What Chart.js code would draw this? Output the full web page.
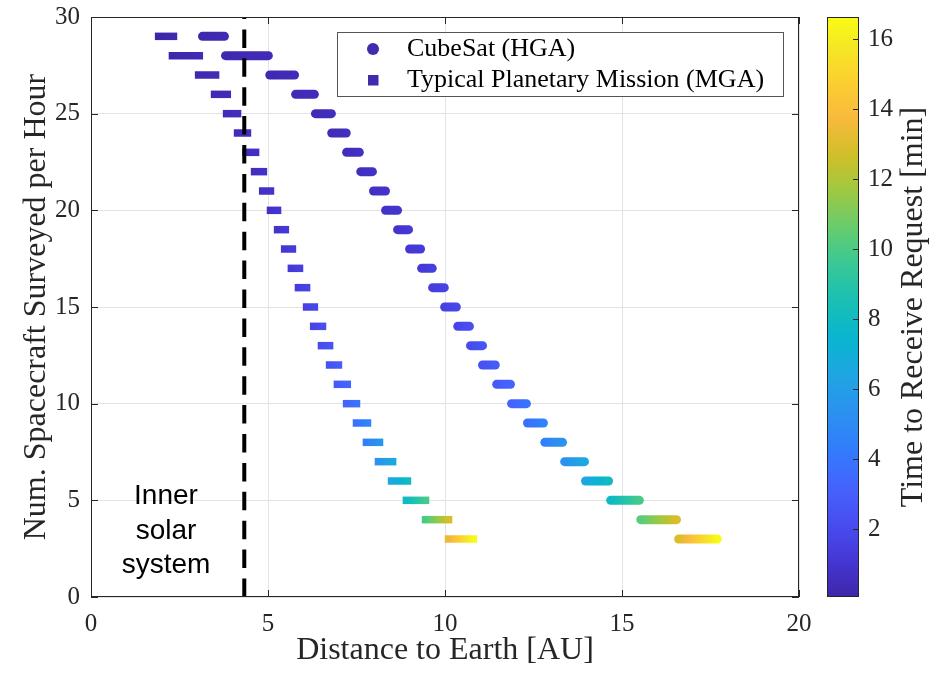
<!DOCTYPE html>
<html>
<head>
<meta charset="utf-8">
<script src="https://cdn.jsdelivr.net/npm/chart.js@4.4.1/dist/chart.umd.min.js"></script>
<style>
  body { margin: 0; background: #fff; }
</style>
</head>
<body>
<canvas id="grafico" width="942" height="674"></canvas>
<script>
// ==========================================
// 1. DATA
// ==========================================
// spacecraft surveyed per hour, one row per value
const mgaRows  = [29,28,27,26,25,24,23,22,21,20,19,18,17,16,15,14,13,12,11,10,9,8,7,6,5,4,3];
const mgaStart = [1.91,2.30,3.04,3.49,3.83,4.14,4.38,4.62,4.85,5.07,5.27,5.47,5.66,5.86,6.09,6.29,6.51,6.74,6.96,7.22,7.50,7.78,8.12,8.49,8.91,9.45,10.10];
const mgaEnd   = [2.33,3.06,3.52,3.85,4.14,4.42,4.65,4.87,5.07,5.27,5.49,5.69,5.89,6.09,6.31,6.54,6.74,6.99,7.24,7.50,7.81,8.15,8.52,8.94,9.45,10.10,10.80];
const mgaTimeStart = [0.06,0.15,0.25,0.3,0.4,0.45,0.5,0.6,0.7,0.8,0.9,1.1,1.2,1.4,1.6,1.8,2.1,2.4,2.8,3.2,3.8,4.5,5.4,6.5,7.9,10.0,13.3];
const mgaTimeEnd   = [0.25,0.35,0.4,0.45,0.55,0.6,0.7,0.8,0.9,1.0,1.2,1.3,1.5,1.7,1.9,2.2,2.5,2.9,3.3,3.9,4.6,5.5,6.6,8.0,9.9,12.8,16.6];

const cubeRows  = [29,28,27,26,25,24,23,22,21,20,19,18,17,16,15,14,13,12,11,10,9,8,7,6,5,4,3];
const cubeStart = [3.15,3.80,5.05,5.78,6.34,6.80,7.22,7.62,7.98,8.32,8.66,9.00,9.34,9.65,9.99,10.36,10.72,11.06,11.46,11.88,12.33,12.82,13.38,13.97,14.68,15.53,16.60];
const cubeEnd   = [3.77,5.01,5.75,6.31,6.79,7.21,7.58,7.95,8.32,8.66,8.97,9.31,9.64,9.98,10.32,10.69,11.06,11.42,11.85,12.30,12.78,13.32,13.94,14.62,15.49,16.54,17.69];
const cubeTimeStart = [0.2,0.25,0.3,0.35,0.4,0.45,0.5,0.6,0.7,0.8,0.9,1.1,1.2,1.4,1.6,1.8,2.1,2.4,2.8,3.2,3.8,4.5,5.4,6.5,7.9,10.3,12.9];
const cubeTimeEnd   = [0.35,0.4,0.45,0.5,0.55,0.6,0.7,0.8,0.9,1.0,1.2,1.3,1.5,1.7,1.9,2.2,2.5,2.9,3.3,3.9,4.6,5.5,6.6,8.0,9.9,12.9,16.6];

const innerSystemEdge = 4.33;   // AU, dashed line
const xTicks = [0, 5, 10, 15, 20];
const yTicks = [0, 5, 10, 15, 20, 25, 30];
const cbTicks = [2, 4, 6, 8, 10, 12, 14, 16];
const cbMin = 0.06;
const cbMax = 16.63;

// ==========================================
// 2. COLORMAP (parula)
// ==========================================
const parula = [
  [62,38,168],[69,55,213],[72,77,240],[69,99,253],[50,124,252],[43,145,239],
  [32,165,227],[8,181,208],[25,191,182],[55,200,151],[100,205,111],[157,201,67],
  [209,191,39],[248,186,61],[252,207,48],[245,233,36],[249,251,21]
];
const parulaPos = [0,4,8,12,16,20,24,28,32,36,40,44,48,52,56,60,63].map(i => i / 63);

function cor(v) {
  const f = Math.min(1, Math.max(0, (v - cbMin) / (cbMax - cbMin)));
  let i = 0;
  while (i < parulaPos.length - 2 && f > parulaPos[i + 1]) i++;
  const k = (f - parulaPos[i]) / (parulaPos[i + 1] - parulaPos[i]);
  const a = parula[i], b = parula[i + 1];
  const c = a.map((x, j) => Math.round(x + (b[j] - x) * k));
  return `rgb(${c[0]},${c[1]},${c[2]})`;
}

function montarLinhas(rows, ini, fim, tIni, tFim) {
  const pts = [];
  rows.forEach((y, i) => {
    pts.push({ x: ini[i], y, t: tIni[i] });
    pts.push({ x: fim[i], y, t: tFim[i] });
    pts.push({ x: fim[i], y: null });
  });
  return pts;
}

function gradienteSegmento(ctx) {
  const ds = ctx.chart.data.datasets[ctx.datasetIndex];
  const a = ds.data[ctx.p0DataIndex], b = ds.data[ctx.p1DataIndex];
  if (a.t === undefined || b.t === undefined) return "#3e26a8";
  const g = ctx.chart.ctx.createLinearGradient(ctx.p0.x, 0, ctx.p1.x, 0);
  for (let k = 0; k <= 10; k++) g.addColorStop(k / 10, cor(a.t + (b.t - a.t) * k / 10));
  return g;
}

// ==========================================
// 3. EXTRA DRAWING (box, ticks, colorbar, legend, notes)
// ==========================================
const serif = "'Liberation Serif', 'Times New Roman', serif";
const eixoCor = "#262626";

const extras = {
  id: "extras",
  afterDraw(chart) {
    const { ctx, chartArea: ca, scales } = chart;
    ctx.save();

    // axes box + inner ticks
    ctx.strokeStyle = eixoCor;
    ctx.lineWidth = 1;
    ctx.strokeRect(ca.left + 0.5, ca.top + 0.5, ca.right - ca.left - 1, ca.bottom - ca.top - 1);
    ctx.beginPath();
    xTicks.forEach(v => {
      const px = Math.round(scales.x.getPixelForValue(v)) + 0.5;
      ctx.moveTo(px, ca.bottom); ctx.lineTo(px, ca.bottom - 7);
      ctx.moveTo(px, ca.top); ctx.lineTo(px, ca.top + 7);
    });
    yTicks.forEach(v => {
      const py = Math.round(scales.y.getPixelForValue(v)) + 0.5;
      ctx.moveTo(ca.left, py); ctx.lineTo(ca.left + 7, py);
      ctx.moveTo(ca.right, py); ctx.lineTo(ca.right - 7, py);
    });
    ctx.stroke();

    // colorbar
    const cb = scales.cb;
    const cbL = 827, cbR = 859;
    const yTop = cb.getPixelForValue(cbMax), yBot = cb.getPixelForValue(cbMin);
    const grad = ctx.createLinearGradient(0, yBot, 0, yTop);
    for (let k = 0; k <= 40; k++) grad.addColorStop(k / 40, cor(cbMin + (cbMax - cbMin) * k / 40));
    ctx.fillStyle = grad;
    ctx.fillRect(cbL, yTop, cbR - cbL, yBot - yTop);
    ctx.strokeRect(cbL + 0.5, yTop + 0.5, cbR - cbL - 1, yBot - yTop - 1);
    ctx.beginPath();
    cbTicks.forEach(v => {
      const py = Math.round(cb.getPixelForValue(v)) + 0.5;
      ctx.moveTo(cbR, py); ctx.lineTo(cbR - 6, py);
    });
    ctx.stroke();

    // colorbar title
    ctx.save();
    ctx.translate(914, (yTop + yBot) / 2);
    ctx.rotate(-Math.PI / 2);
    ctx.fillStyle = eixoCor;
    ctx.font = "32px " + serif;
    ctx.textAlign = "center";
    ctx.textBaseline = "middle";
    ctx.fillText("Time to Receive Request [min]", 0, 0);
    ctx.restore();

    // inner solar system note
    ctx.fillStyle = "#000";
    ctx.font = "28px 'Liberation Sans', Arial, sans-serif";
    ctx.textAlign = "center";
    ctx.textBaseline = "alphabetic";
    ["Inner", "solar", "system"].forEach((s, i) => ctx.fillText(s, 166, 504 + i * 34.5));

    // legend
    ctx.fillStyle = "#fff";
    ctx.fillRect(337, 32, 447, 65);
    ctx.strokeStyle = "#555";
    ctx.strokeRect(337.5, 32.5, 446, 64);
    ctx.fillStyle = "rgb(62,44,172)";
    ctx.beginPath();
    ctx.arc(373, 49, 6, 0, Math.PI * 2);
    ctx.fill();
    ctx.fillRect(368, 75, 10.5, 10.5);
    ctx.fillStyle = "#000";
    ctx.font = "26px " + serif;
    ctx.textAlign = "left";
    ctx.fillText("CubeSat (HGA)", 407, 56);
    ctx.fillText("Typical Planetary Mission (MGA)", 407, 87);

    ctx.restore();
  }
};

// ==========================================
// 4. CHART
// ==========================================
// tick marks are drawn by the plugin; Chart.js ticks are kept invisible and only
// used as the gap between the axis and its labels
new Chart(document.getElementById("grafico"), {
  type: "line",
  data: {
    datasets: [
      {
        label: "Inner solar system",
        data: [{ x: innerSystemEdge, y: 0 }, { x: innerSystemEdge, y: 30 }],
        borderColor: "#000",
        borderWidth: 4,
        borderDash: [18.5, 10.4],
        pointRadius: 0
      },
      {
        label: "CubeSat (HGA)",
        data: montarLinhas(cubeRows, cubeStart, cubeEnd, cubeTimeStart, cubeTimeEnd),
        borderColor: "#3e26a8",
        borderWidth: 9,
        borderCapStyle: "round",
        pointRadius: 0,
        spanGaps: false,
        segment: { borderColor: gradienteSegmento }
      },
      {
        label: "Typical Planetary Mission (MGA)",
        data: montarLinhas(mgaRows, mgaStart, mgaEnd, mgaTimeStart, mgaTimeEnd),
        borderColor: "#3e26a8",
        borderWidth: 7.5,
        borderCapStyle: "square",
        pointRadius: 0,
        spanGaps: false,
        segment: { borderColor: gradienteSegmento }
      }
    ]
  },
  options: {
    responsive: false,
    animation: false,
    devicePixelRatio: 1,
    layout: { padding: { top: 17, left: 0, right: 0, bottom: 0 } },
    plugins: { legend: { display: false }, tooltip: { enabled: false } },
    scales: {
      x: {
        type: "linear", min: 0, max: 20,
        afterBuildTicks: s => { s.ticks = xTicks.map(v => ({ value: v })); },
        afterFit: s => { s.height = 77; },
        grid: { color: "#e3e3e3", drawTicks: true, tickLength: 12, tickColor: "rgba(0,0,0,0)" },
        border: { display: false },
        ticks: { padding: 0, color: eixoCor, font: { family: serif, size: 25 }, maxRotation: 0 },
        title: { display: true, text: "Distance to Earth [AU]", color: eixoCor,
                 font: { family: serif, size: 32 }, padding: { top: 0, bottom: 4 } }
      },
      y: {
        type: "linear", min: 0, max: 30,
        afterBuildTicks: s => { s.ticks = yTicks.map(v => ({ value: v })); },
        afterFit: s => { s.width = 91; },
        grid: { color: "#e3e3e3", drawTicks: true, tickLength: 11, tickColor: "rgba(0,0,0,0)" },
        border: { display: false },
        ticks: { padding: 0, color: eixoCor, font: { family: serif, size: 25 } },
        title: { display: true, text: "Num. Spacecraft Surveyed per Hour", color: eixoCor,
                 font: { family: serif, size: 32 }, padding: { top: 17, bottom: 0 } }
      },
      cb: {
        type: "linear", position: "right", min: cbMin, max: cbMax,
        afterBuildTicks: s => { s.ticks = cbTicks.map(v => ({ value: v })); },
        afterFit: s => { s.width = 143; },
        grid: { display: false, drawTicks: true, tickLength: 69 },
        border: { display: false },
        ticks: { padding: 0, color: eixoCor, font: { family: serif, size: 25 } }
      }
    }
  },
  plugins: [extras]
});
</script>
</body>
</html>
